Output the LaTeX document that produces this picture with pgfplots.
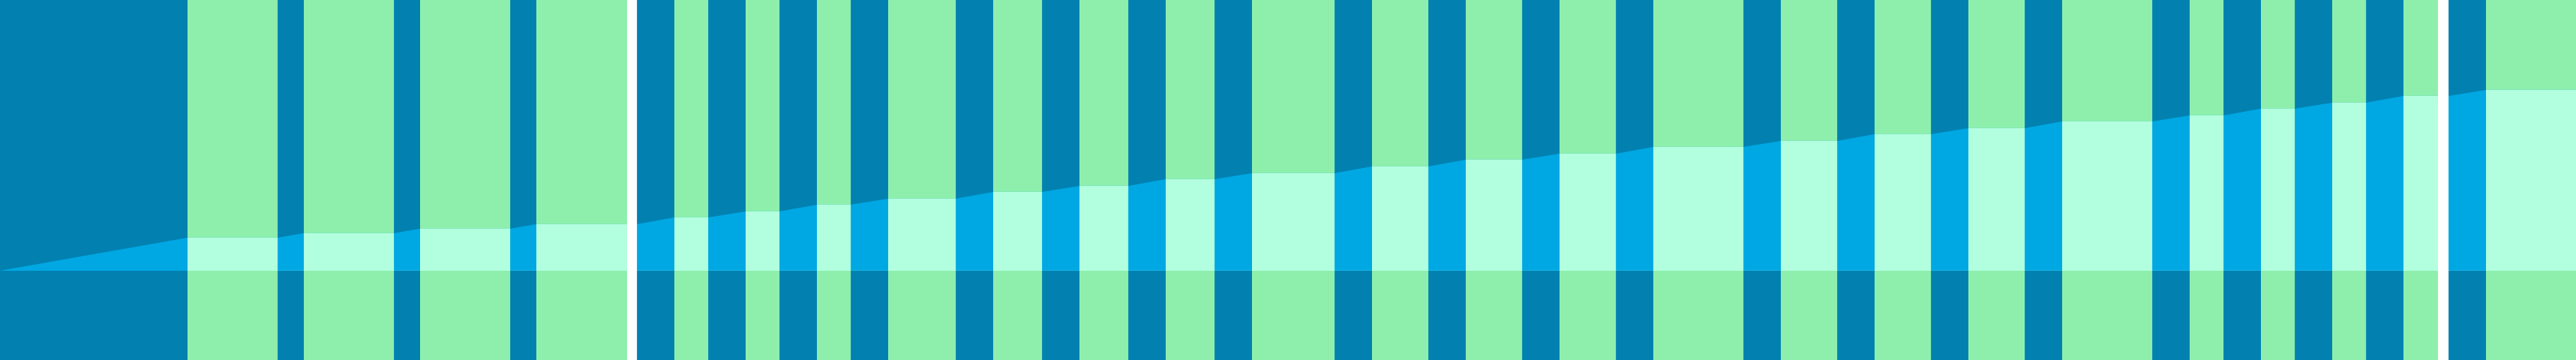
\documentclass[border=0pt]{standalone}
\usepackage{pgfplots}
\pgfplotsset{compat=1.18}
\definecolor{deepblue}{HTML}{0281B1}
\definecolor{skyblue}{HTML}{00A8E3}
\definecolor{leaf}{HTML}{8EEFAD}
\definecolor{mint}{HTML}{B2FFDF}

\begin{document}
\begin{tikzpicture}
\begin{axis}[
  scale only axis,
  width=343.4pt, height=48pt,
  xmin=0, xmax=3434,
  ymin=0, ymax=480,
  y dir=reverse,
  axis lines=none,
  ticks=none,
  no markers,
  clip=true,
]
% dark background
\addplot[fill=deepblue, draw=none] coordinates {(0,0) (3434,0) (3434,480) (0,480)};

% green stripes, full height
\addplot[fill=leaf, draw=none] coordinates {
  (250,0) (250,480) (370,480) (370,0)
  (405,0) (405,480) (525,480) (525,0)
  (560,0) (560,480) (680,480) (680,0)
  (715,0) (715,480) (836,480) (836,0)
  (899,0) (899,480) (944,480) (944,0)
  (994,0) (994,480) (1039,480) (1039,0)
  (1089,0) (1089,480) (1134,480) (1134,0)
  (1184,0) (1184,480) (1274,480) (1274,0)
  (1324,0) (1324,480) (1389,480) (1389,0)
  (1439,0) (1439,480) (1504,480) (1504,0)
  (1554,0) (1554,480) (1619,480) (1619,0)
  (1669,0) (1669,480) (1779,480) (1779,0)
  (1829,0) (1829,480) (1904,480) (1904,0)
  (1954,0) (1954,480) (2029,480) (2029,0)
  (2079,0) (2079,480) (2154,480) (2154,0)
  (2204,0) (2204,480) (2324,480) (2324,0)
  (2374,0) (2374,480) (2449,480) (2449,0)
  (2499,0) (2499,480) (2574,480) (2574,0)
  (2624,0) (2624,480) (2699,480) (2699,0)
  (2749,0) (2749,480) (2869,480) (2869,0)
  (2919,0) (2919,480) (2964,480) (2964,0)
  (3014,0) (3014,480) (3059,480) (3059,0)
  (3109,0) (3109,480) (3154,480) (3154,0)
  (3204,0) (3204,480) (3250,480) (3250,0)
  (3314,0) (3314,480) (3434,480) (3434,0)
};

% rising area over the blue stripes
\addplot[fill=skyblue, draw=none] coordinates {
  (0,361) (250,317) (370,317) (405,311) (525,311) (560,305) (680,305)
  (715,299) (849,299) (899,290) (944,290) (994,282) (1039,282)
  (1089,273) (1134,273) (1184,265) (1274,265) (1324,256) (1389,256)
  (1439,248) (1504,248) (1554,239) (1619,239) (1669,231) (1779,231)
  (1829,222) (1904,222) (1954,213) (2029,213) (2079,205) (2154,205)
  (2204,196) (2324,196) (2374,188) (2449,188) (2499,179) (2574,179)
  (2624,171) (2699,171) (2749,162) (2869,162) (2919,154) (2964,154)
  (3014,145) (3059,145) (3109,137) (3154,137) (3204,128) (3264,128)
  (3314,120) (3434,120) (3434,361)
};

% same area over the green stripes
\addplot[fill=mint, draw=none] coordinates {
  (250,361) (250,317) (370,317) (370,361)
  (405,361) (405,311) (525,311) (525,361)
  (560,361) (560,305) (680,305) (680,361)
  (715,361) (715,299) (836,299) (836,361)
  (899,361) (899,290) (944,290) (944,361)
  (994,361) (994,282) (1039,282) (1039,361)
  (1089,361) (1089,273) (1134,273) (1134,361)
  (1184,361) (1184,265) (1274,265) (1274,361)
  (1324,361) (1324,256) (1389,256) (1389,361)
  (1439,361) (1439,248) (1504,248) (1504,361)
  (1554,361) (1554,239) (1619,239) (1619,361)
  (1669,361) (1669,231) (1779,231) (1779,361)
  (1829,361) (1829,222) (1904,222) (1904,361)
  (1954,361) (1954,213) (2029,213) (2029,361)
  (2079,361) (2079,205) (2154,205) (2154,361)
  (2204,361) (2204,196) (2324,196) (2324,361)
  (2374,361) (2374,188) (2449,188) (2449,361)
  (2499,361) (2499,179) (2574,179) (2574,361)
  (2624,361) (2624,171) (2699,171) (2699,361)
  (2749,361) (2749,162) (2869,162) (2869,361)
  (2919,361) (2919,154) (2964,154) (2964,361)
  (3014,361) (3014,145) (3059,145) (3059,361)
  (3109,361) (3109,137) (3154,137) (3154,361)
  (3204,361) (3204,128) (3250,128) (3250,361)
  (3314,361) (3314,120) (3434,120) (3434,361)
};

% white gaps
\addplot[fill=white, draw=none] coordinates {
  (836,0) (836,480) (849,480) (849,0)
  (3250,0) (3250,480) (3264,480) (3264,0)
};
\end{axis}
\end{tikzpicture}
\end{document}
